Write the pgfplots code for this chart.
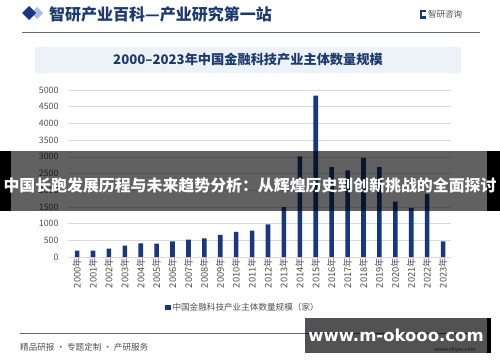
\documentclass[border=0pt]{standalone}
\usepackage{pgfplots}
\pgfplotsset{compat=1.18}
\usepackage{fontspec}
\setmainfont{Noto Sans CJK SC}
\newfontfamily\djv{DejaVu Sans}
\definecolor{barnavy}{HTML}{17387D}
\definecolor{hdrnavy}{HTML}{1C3A6E}
\definecolor{gridgray}{HTML}{D9D9D9}
\definecolor{ticklab}{HTML}{505050}
\definecolor{boxblue}{HTML}{EDF2F9}
\definecolor{lineblue}{HTML}{5C6B82}
\definecolor{lightdia}{HTML}{A9BEE0}
\pgfplotstableread{
x val
0 190
1 190
2 250
3 340
4 410
5 400
6 470
7 520
8 560
9 660
10 750
11 790
12 980
13 1490
14 3010
15 4830
16 2690
17 2590
18 2970
19 2690
20 1660
21 1470
22 1890
23 470
}\datatab
\begin{document}
\begin{tikzpicture}[x=1bp,y=1bp]
\path[use as bounding box,fill=white] (0,0) rectangle (500,362);
% header
\fill[lightdia] (37,355) -- (43,349) -- (37,343) -- (31,349) -- cycle;
\fill[barnavy] (29,356) -- (36,349) -- (29,342) -- (22,349) -- cycle;
\node[anchor=west,text=hdrnavy,font=\fontsize{16bp}{18bp}\selectfont\bfseries,inner sep=0] at (49,347.5) {智研产业百科—产业研究第一站};
\fill[barnavy] (420,343) rectangle (426,352);
\fill[white] (421.5,346) rectangle (426,349.5);
\node[anchor=west,text=ticklab,font=\fontsize{8.5bp}{10bp}\selectfont,inner sep=0] at (428,347.5) {智研咨询};
\draw[lineblue,line width=0.9bp] (22,330) -- (480,330);
% title box
\fill[boxblue] (35,289) rectangle (461,315);
\node[text=hdrnavy,font=\fontsize{13.2bp}{15bp}\selectfont\bfseries,inner sep=0] at (248,302) {2000–2023年中国金融科技产业主体数量规模};
% chart
\begin{axis}[
  at={(68bp,105bp)}, anchor=south west,
  scale only axis, width=383bp, height=167bp,
  xmin=-0.57, xmax=23.5, ymin=0, ymax=5000,
  ybar, bar width=4.6bp,
  axis line style={draw=none},
  ytick={0,500,...,5000},
  ymajorgrids, grid style={gridgray,line width=0.6bp},
  major tick length=0pt,
  xtick=data,
  xticklabels={2000年,2001年,2002年,2003年,2004年,2005年,2006年,2007年,2008年,2009年,2010年,2011年,2012年,2013年,2014年,2015年,2016年,2017年,2018年,2019年,2020年,2021年,2022年,2023年},
  x tick label style={rotate=90,anchor=east,font=\fontsize{9.3bp}{10bp}\selectfont,text=ticklab,inner sep=1bp},
  y tick label style={font=\fontsize{8.8bp}{10bp}\selectfont,text=ticklab,xshift=-6bp},
  /pgf/number format/assume math mode=true,
  /pgf/number format/1000 sep={},
  legend style={at={(0.457,-0.3)},anchor=center,draw=none,fill=none,font=\fontsize{8.6bp}{10bp}\selectfont,text=ticklab,inner sep=0pt},
  legend image code/.code={\fill[barnavy] (0bp,-2.6bp) rectangle (5.2bp,2.6bp);},
]
\addplot[fill=barnavy,draw=none] table[x=x,y=val] {\datatab};
\addlegendentry{中国金融科技产业主体数量规模（家）}
\end{axis}
% footer
\draw[lineblue,line width=0.9bp] (20,29) -- (480,29);
\node[anchor=west,text=ticklab,font=\fontsize{8.6bp}{10bp}\selectfont,inner sep=0] at (20,15) {精品研报 · 专题定制 · 产研服务};
\node[anchor=east,text=ticklab,font=\fontsize{5.5bp}{7bp}\selectfont,inner sep=0] at (476,12) {www.chyxx.com};
% overlay band
\fill[black] (0,151) rectangle (11,211);
\fill[black,opacity=0.62] (11,151) rectangle (487,211);
\fill[black] (487,151) rectangle (500,211);
\node[text=white,font=\fontsize{15.9bp}{18bp}\selectfont\bfseries,inner sep=0] at (250,177) {中国长跑发展历程与未来趋势分析：从辉煌历史到创新挑战的全面探讨};
% bottom-right overlay
\fill[black,opacity=0.68] (305,9) rectangle (487,44);
\fill[black] (487,9) rectangle (491,44);
\node[text=white,font=\djv\fontsize{16.5bp}{19bp}\selectfont\bfseries,inner sep=0] at (396,27) {www.m-okooo.com};
\end{tikzpicture}
\end{document}
